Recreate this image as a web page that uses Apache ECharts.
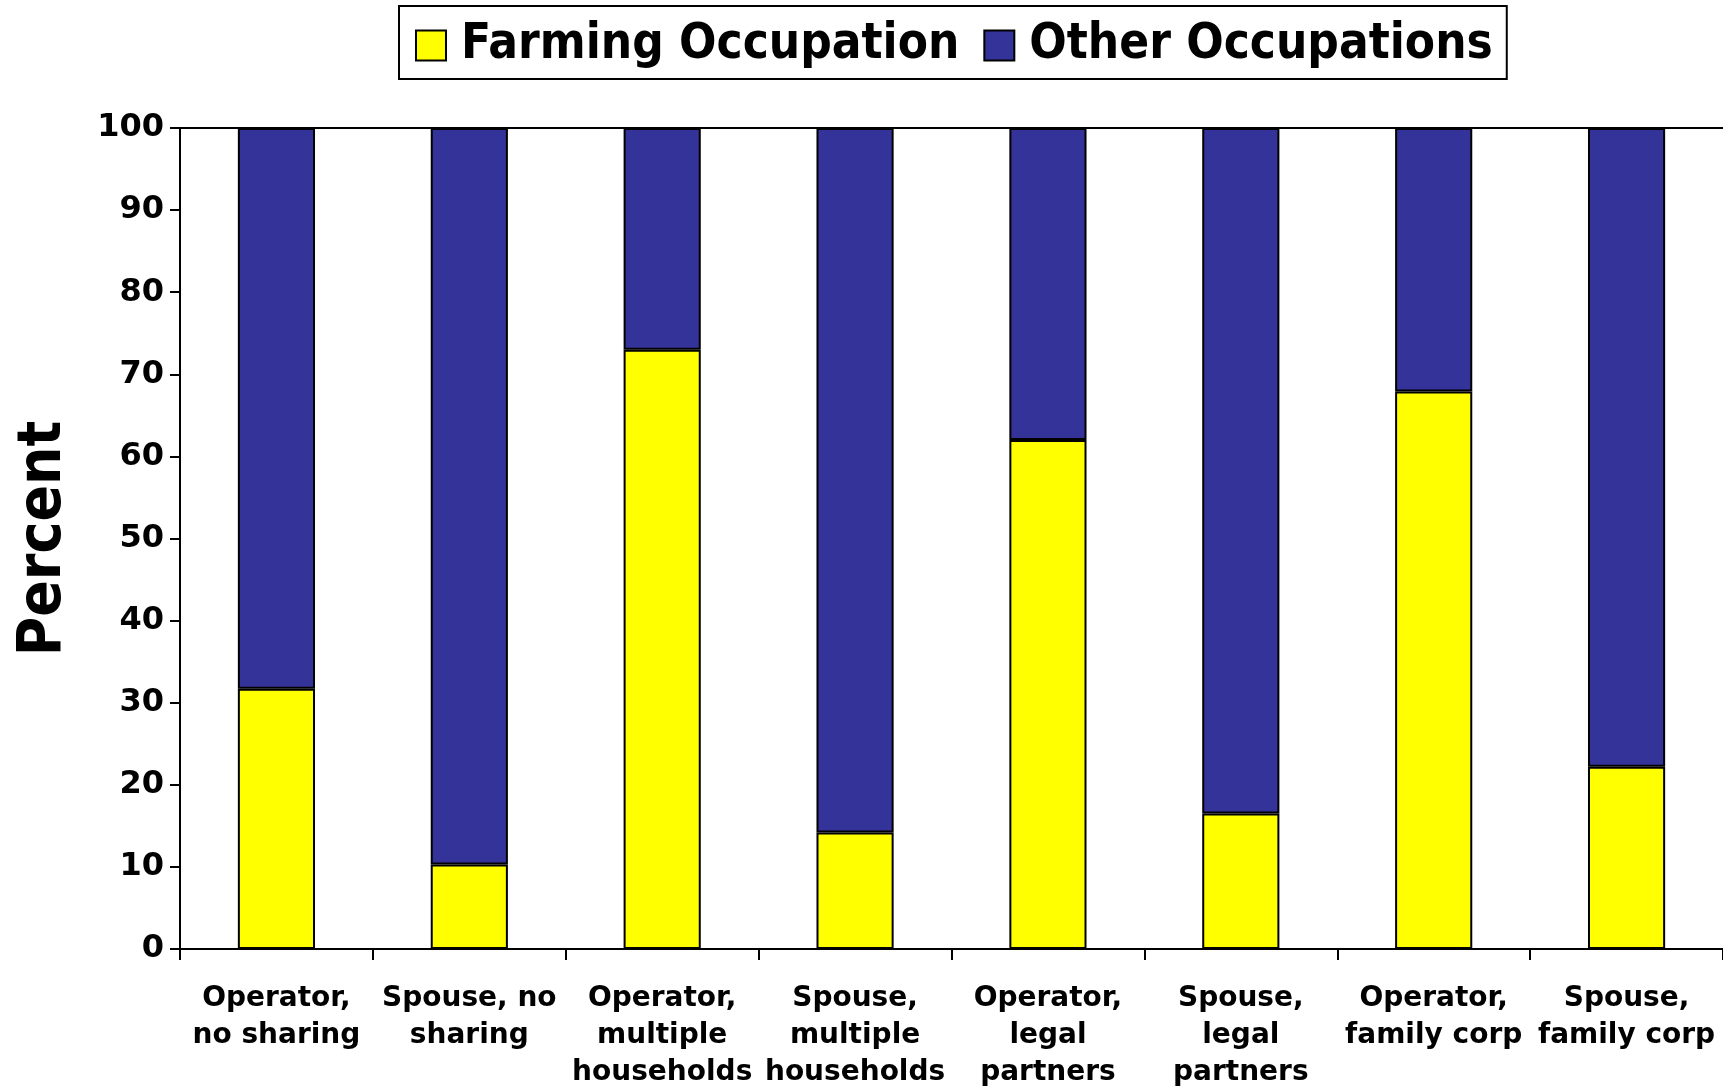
<!DOCTYPE html>
<html>
<head>
<meta charset="utf-8">
<title>Farming vs Other Occupations</title>
<script src="https://cdn.jsdelivr.net/npm/echarts@6/dist/echarts.min.js"></script>
<style>
  html, body { margin: 0; padding: 0; background: #fff; }
  #chart { width: 1723px; height: 1087px; }
</style>
</head>
<body>
<div id="chart"></div>
<script>
const categories = [
  'Operator,\nno sharing',
  'Spouse, no\nsharing',
  'Operator,\nmultiple\nhouseholds',
  'Spouse,\nmultiple\nhouseholds',
  'Operator,\nlegal\npartners',
  'Spouse,\nlegal\npartners',
  'Operator,\nfamily corp',
  'Spouse,\nfamily corp'
]
const farming = [31.7, 10.3, 73.0, 14.2, 62.0, 16.5, 67.9, 22.2]
const other = [68.3, 89.7, 27.0, 85.8, 38.0, 83.5, 32.1, 77.8]
const yTicks = [0, 10, 20, 30, 40, 50, 60, 70, 80, 90, 100]

const condensed = '"DejaVu Sans Condensed", "DejaVu Sans", sans-serif'
const regular = '"DejaVu Sans", sans-serif'

const chart = echarts.init(document.getElementById('chart'))

const option = {
  animation: false,
  textStyle: { fontFamily: regular },
  legend: {
    top: 6,
    left: 399,
    padding: [15, 14, 9, 16],
    borderColor: '#000',
    borderWidth: 2,
    icon: 'rect',
    itemWidth: 30,
    itemHeight: 30,
    itemGap: 24,
    itemStyle: { borderColor: '#000', borderWidth: 2 },
    textStyle: { fontFamily: condensed, fontWeight: 'bold', fontSize: 49, color: '#000', padding: [0, 0, 0, 10] },
    data: ['Farming Occupation', 'Other Occupations']
  },
  grid: {
    left: 180,
    right: 0,
    top: 128,
    bottom: 138,
    outerBoundsMode: 'none'
  },
  xAxis: [
    {
      type: 'category',
      data: categories,
      axisLine: { lineStyle: { color: '#000', width: 2 } },
      axisTick: { show: true, length: 11, lineStyle: { color: '#000', width: 2 } },
      axisLabel: {
        interval: 0,
        margin: 31,
        color: '#000',
        fontFamily: regular,
        fontWeight: 'bold',
        fontSize: 28,
        lineHeight: 37
      }
    },
    {
      type: 'category',
      position: 'top',
      data: categories,
      axisLine: { lineStyle: { color: '#000', width: 2 } },
      axisTick: { show: false },
      axisLabel: { show: false }
    }
  ],
  yAxis: {
    type: 'value',
    min: 0,
    max: 100,
    interval: 10,
    name: 'Percent',
    nameLocation: 'middle',
    nameGap: 106,
    nameTextStyle: { fontFamily: condensed, fontWeight: 'bold', fontSize: 60, color: '#000' },
    axisLine: { show: true, lineStyle: { color: '#000', width: 2 } },
    axisTick: { show: true, length: 10, lineStyle: { color: '#000', width: 2 } },
    splitLine: { show: false },
    axisLabel: {
      margin: 16,
      color: '#000',
      fontFamily: regular,
      fontWeight: 'bold',
      fontSize: 32,
      formatter: v => (yTicks.includes(v) ? String(v) : '')
    }
  },
  series: [
    {
      name: 'Farming Occupation',
      type: 'bar',
      stack: 'total',
      barWidth: '40%',
      data: farming,
      itemStyle: { color: '#FFFF00', borderColor: '#000', borderWidth: 2 }
    },
    {
      name: 'Other Occupations',
      type: 'bar',
      stack: 'total',
      barWidth: '40%',
      data: other,
      itemStyle: { color: '#333399', borderColor: '#000', borderWidth: 2 }
    }
  ]
}

chart.setOption(option)
</script>
</body>
</html>
